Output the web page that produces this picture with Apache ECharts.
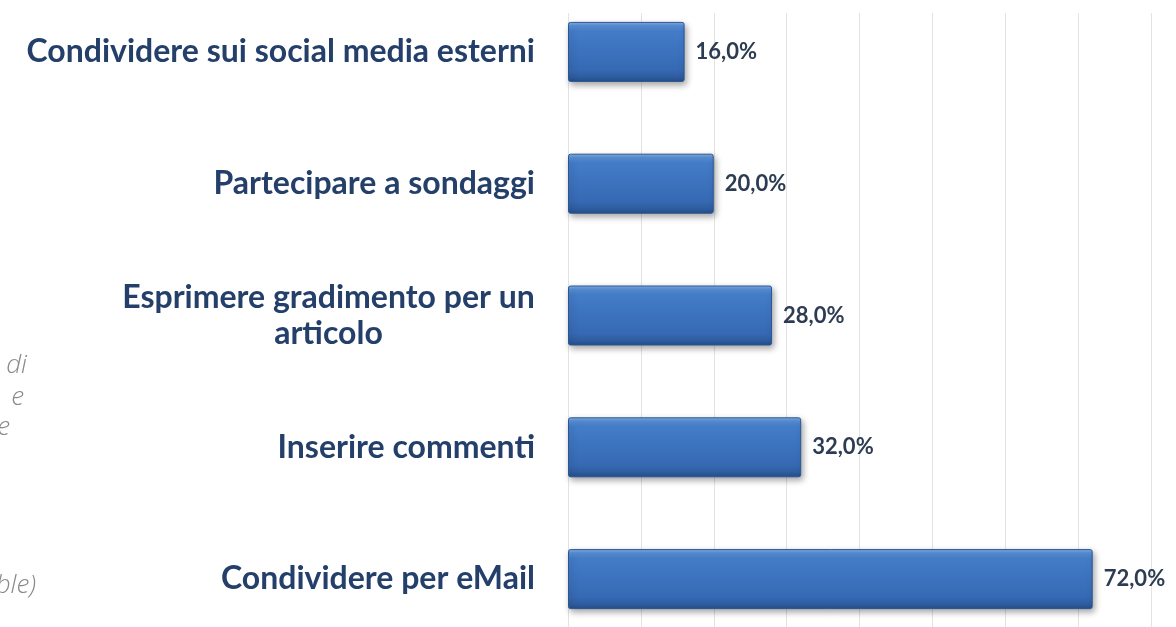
<!DOCTYPE html>
<html>
<head>
<meta charset="utf-8">
<script src="https://cdn.jsdelivr.net/npm/echarts@6/dist/echarts.min.js"></script>
<style>
  html, body { margin: 0; padding: 0; background: #ffffff; }
  #chart { width: 1176px; height: 627px; }
</style>
</head>
<body>
<div id="chart"></div>
<script>
// Categories (top to bottom) and their shares in percent
const categories = [
  'Condividere sui social media esterni',
  'Partecipare a sondaggi',
  'Esprimere gradimento per un\narticolo',
  'Inserire commenti',
  'Condividere per eMail'
];
const shares = [16.0, 20.0, 28.0, 32.0, 72.0];

// Value axis ticks (percent)
const axisMin = 0;
const axisMax = 80;
const axisStep = 10;

// Fragments of the side note running off the left edge
const sideNote = ['di', 'e', 'e', 'ble)'];

const chart = echarts.init(document.getElementById('chart'), null, { renderer: 'canvas' });

const labelColor = '#24406a';
const valueColor = '#2d3c52';
const labelFont = 'bold 32px Lato';

const barFill = new echarts.graphic.LinearGradient(0, 0, 0, 1, [
  { offset: 0.00, color: '#86b4ea' },
  { offset: 0.06, color: '#5a90d6' },
  { offset: 0.16, color: '#437cc8' },
  { offset: 0.80, color: '#3669b3' },
  { offset: 0.93, color: '#2d5b9d' },
  { offset: 1.00, color: '#264d86' }
]);

// Multi-line category names are centred line by line inside a box as wide as their longest line
const measureCtx = document.createElement('canvas').getContext('2d');
measureCtx.font = labelFont;
function textWidth(s) { return Math.ceil(measureCtx.measureText(s).width); }

function formatCategory(v) {
  const lines = v.split('\n');
  if (lines.length === 1) return v;
  return lines.map(l => '{c|' + l + '}').join('\n');
}
const multiLineWidth = Math.max(...categories
  .filter(c => c.includes('\n'))
  .flatMap(c => c.split('\n'))
  .map(textWidth));

const noteSpots = [
  { y: 379, right: 27 },
  { y: 411, right: 24 },
  { y: 441, right: 10 },
  { y: 599, right: 36 }
];

chart.setOption({
  animation: false,
  backgroundColor: '#ffffff',
  grid: [
    { left: 568, right: 25, top: 13, bottom: 0, outerBoundsMode: 'none' },
    { left: 568, right: 25, top: -14, height: 659, outerBoundsMode: 'none' }
  ],
  xAxis: [
    {
      gridIndex: 0, type: 'value', min: axisMin, max: axisMax, interval: axisStep,
      axisLine: { show: false }, axisTick: { show: false }, axisLabel: { show: false },
      splitLine: { show: true, lineStyle: { color: '#e3e3e3', width: 1 } }
    },
    {
      gridIndex: 1, type: 'value', min: axisMin, max: axisMax, interval: axisStep,
      axisLine: { show: false }, axisTick: { show: false }, axisLabel: { show: false },
      splitLine: { show: false }
    }
  ],
  yAxis: [
    {
      gridIndex: 0, type: 'category', data: categories, inverse: true, show: false
    },
    {
      gridIndex: 1, type: 'category', data: categories, inverse: true,
      axisLine: { show: false }, axisTick: { show: false }, splitLine: { show: false },
      axisLabel: {
        margin: 33,
        color: labelColor,
        fontFamily: 'Lato',
        fontWeight: 'bold',
        fontSize: 32,
        lineHeight: 36,
        align: 'right',
        formatter: formatCategory,
        rich: {
          c: {
            width: multiLineWidth, align: 'center',
            color: labelColor, fontFamily: 'Lato', fontWeight: 'bold',
            fontSize: 32, lineHeight: 36
          }
        }
      }
    }
  ],
  series: [
    {
      type: 'bar',
      xAxisIndex: 1,
      yAxisIndex: 1,
      data: shares,
      barWidth: 60,
      itemStyle: {
        color: barFill,
        borderColor: '#2b5693',
        borderWidth: 1,
        borderRadius: 2,
        shadowColor: 'rgba(0,0,0,0.35)',
        shadowBlur: 6,
        shadowOffsetX: 2,
        shadowOffsetY: 3
      },
      label: {
        show: true,
        position: 'right',
        distance: 11,
        color: valueColor,
        fontFamily: 'Lato',
        fontWeight: 'bold',
        fontSize: 22,
        formatter: p => p.value.toFixed(1).replace('.', ',') + '%'
      }
    }
  ],
  graphic: sideNote.map((t, i) => ({
    type: 'text',
    x: noteSpots[i].right,
    y: noteSpots[i].y,
    style: {
      text: t,
      textAlign: 'right',
      textVerticalAlign: 'bottom',
      fill: '#8a8a8a',
      font: 'italic 300 26px "Open Sans", "DejaVu Sans", sans-serif'
    }
  }))
});
</script>
</body>
</html>
